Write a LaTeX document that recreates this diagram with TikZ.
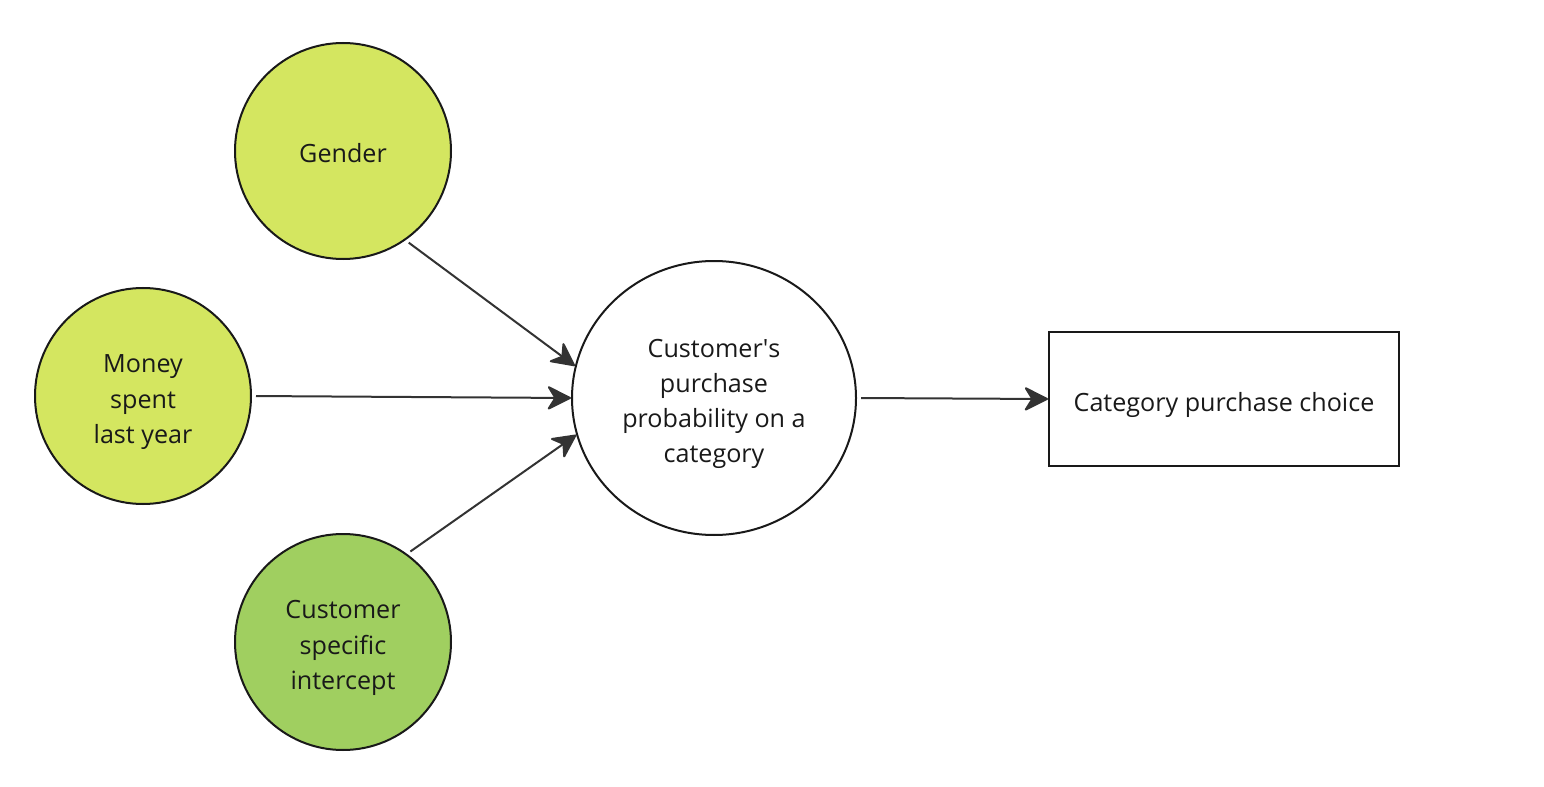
\documentclass[tikz,border=0pt]{standalone}
\usepackage{fontspec}
\setmainfont{Open Sans}
\usetikzlibrary{arrows.meta,shapes.geometric}
\definecolor{lime}{HTML}{D4E660}
\definecolor{leaf}{HTML}{A0CF60}
\def\labelfont{\fontsize{14.3}{19.92}\selectfont}
\def\topstrut{\rule[-0.16cm]{0pt}{0.8cm}}
\def\footstrut{\rule[-0.16cm]{0pt}{0pt}}
\tikzset{
	label text/.style={align=center, text=black!90, font=\labelfont},
	factor/.style={circle, draw=black!90, line width=0.04cm, minimum size=4.32cm, inner sep=0, label text},
	link/.style={line width=0.04cm, color=black!80, -{Stealth[length=0.52cm, width=0.52cm, inset=0.16cm, round]}, shorten <=0.08cm}
}

\begin{document}
\begin{tikzpicture}
		%%%%% START %%%%%
		
		\useasboundingbox (0, 0) rectangle (30.88, 15.72);
		
		\node[factor, fill=lime] (gender) at (6.86, 12.70) {\topstrut Gender};
		\node[factor, fill=lime] (money) at (2.86, 7.80) {\topstrut Money\\spent\\last year\footstrut};
		\node[factor, fill=leaf] (intercept) at (6.86, 2.88) {\topstrut Customer\\specific\\intercept\footstrut};
		
		\node[ellipse, draw=black!90, line width=0.04cm, minimum width=5.68cm, minimum height=5.48cm, inner sep=0, label text] (prob) at (14.28, 7.76) {\topstrut Customer\textquotesingle s\\purchase\\probability on a\\category\footstrut};
		
		\node[rectangle, draw=black!90, line width=0.04cm, minimum width=7.0cm, minimum height=2.68cm, inner sep=0, label text] (choice) at (24.48, 7.74) {\topstrut Category purchase choice};
		
		\draw[link] (gender.-55) -- (prob.167);
		\draw[link] (money.east) -- (prob.west);
		\draw[link] (intercept.54) -- (prob.195);
		\draw[link] (prob.east) -- (choice.west);
		
		%%%%% END %%%%%
	\end{tikzpicture}
\end{document}
